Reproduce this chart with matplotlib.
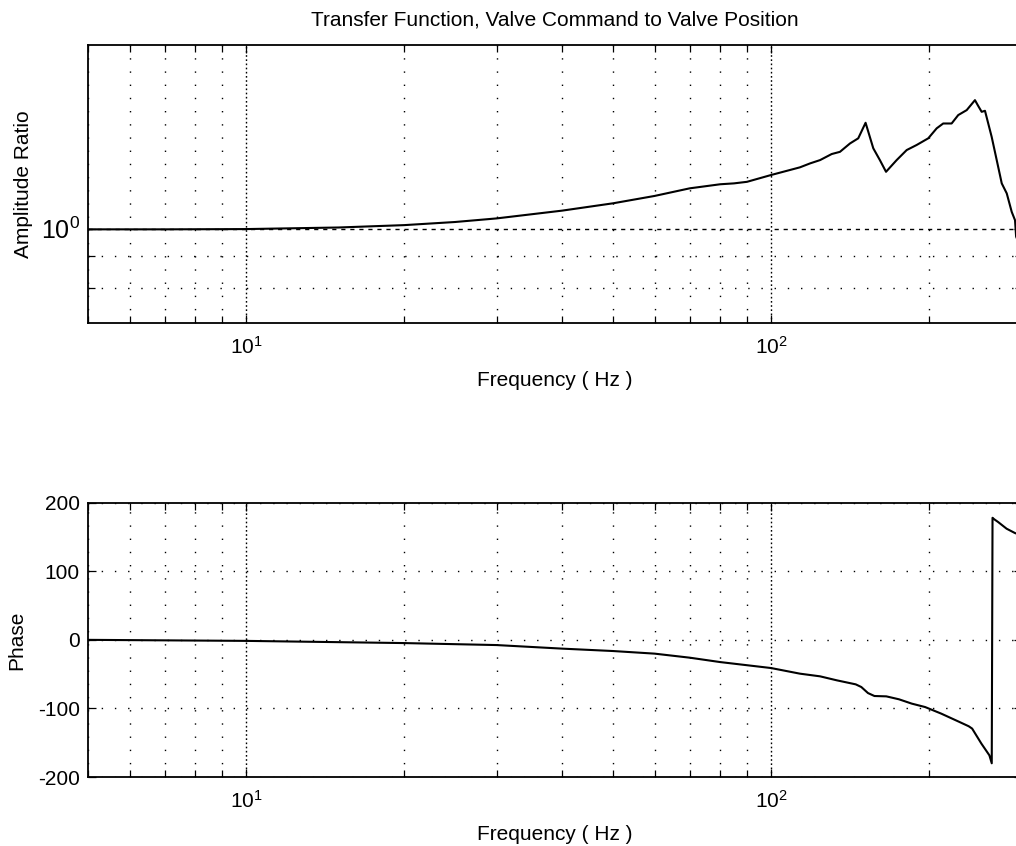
import matplotlib
matplotlib.use('Agg')
import matplotlib.pyplot as plt
from matplotlib.ticker import FixedLocator, NullFormatter

plt.rcParams['font.family'] = ['Liberation Sans', 'DejaVu Sans']
plt.rcParams['lines.scale_dashes'] = False
plt.rcParams['axes.unicode_minus'] = False

# amplitude ratio, valve command -> valve position
freq_amp = [5, 7, 10, 15, 20, 25, 30, 40, 50, 60, 70, 80, 85, 90, 100,
            113.5, 118.7, 124, 130.5, 135.3, 141.4, 146.6, 151.4, 156.6,
            161.2, 165.6, 173.5, 181.3, 189.4, 199.3, 206.8, 212.8, 220.8,
            227.3, 235.9, 244.6, 248, 251.9, 255.6, 263.2, 269.1, 275.1,
            281.2, 287.4, 291.6, 293, 296]
amp = [0.997, 0.997, 0.998, 1.004, 1.013, 1.025, 1.039, 1.070, 1.100, 1.131,
       1.164, 1.182, 1.186, 1.193, 1.224, 1.260, 1.279, 1.295, 1.325, 1.336,
       1.379, 1.406, 1.491, 1.354, 1.295, 1.239, 1.295, 1.345, 1.371, 1.406,
       1.460, 1.487, 1.487, 1.535, 1.564, 1.624, 1.590, 1.554, 1.560, 1.414,
       1.295, 1.186, 1.142, 1.065, 1.032, 0.970, 0.950]

# phase (deg), wrapped to +-180
freq_ph = [5, 10, 20, 30, 40, 50, 60, 70, 80, 100, 113.5, 124, 133.4, 145,
           148.6, 153, 157.4, 165.8, 175.3, 185.4, 196.6, 211, 228.6, 238,
           241.6, 251.6, 260.6, 263.3, 264.2, 266, 270.9, 281, 291.6, 296]
phase = [0, -1.5, -4.7, -7.6, -12.8, -16.3, -20.1, -26, -32.4, -41.1, -49.3,
         -53.2, -59, -64.9, -68.8, -77.6, -81.9, -82.4, -86.7, -93, -98,
         -107.6, -119.8, -126, -129.4, -151.3, -168.4, -180, 178, 176, 171.7,
         162.1, 155.7, 154]

xticks = [10, 100]
xticklabels = [r'$\mathdefault{10^{1}}$', r'$\mathdefault{10^{2}}$']

fs = 15
W, H = 1016, 846

fig = plt.figure(figsize=(W / 100, H / 100), dpi=100)
ax1 = fig.add_axes([88 / W, 1 - 323 / H, 933.5 / W, 278 / H])
ax2 = fig.add_axes([88 / W, 1 - 777 / H, 933.5 / W, 274.3 / H])

dot = (0, (1, 8.5))
for ax in (ax1, ax2):
    ax.set_xscale('log')
    ax.set_xlim(5, 300)
    ax.set_xticks(xticks, xticklabels)
    ax.xaxis.set_minor_formatter(NullFormatter())
    ax.tick_params(which='both', direction='in', top=True, right=True,
                   labelsize=fs, width=0.9)
    ax.tick_params(which='major', length=6)
    ax.tick_params(which='minor', length=5)
    ax.tick_params(axis='x', pad=9)
    ax.tick_params(axis='y', pad=6)
    for s in ax.spines.values():
        s.set_linewidth(1.3)
    ax.grid(True, which='major', axis='x', color='k', lw=1.0,
            linestyle=(0, (1.2, 1.8)))
    ax.grid(True, which='minor', axis='x', color='k', lw=1.0, linestyle=dot)
    ax.set_xlabel('Frequency ( Hz )', fontsize=fs, labelpad=10)

ax1.plot(freq_amp, amp, color='k', lw=1.5)
ax1.set_yscale('log')
ax1.set_ylim(0.7, 2)
ax1.yaxis.set_major_locator(FixedLocator([1]))
ax1.yaxis.set_major_formatter(lambda v, p: r'$\mathdefault{10^{0}}$')
ax1.yaxis.set_minor_locator(FixedLocator([0.8, 0.9]))
ax1.yaxis.set_minor_formatter(NullFormatter())
ax1.tick_params(axis='y', which='major', labelsize=18)
ax1.grid(True, which='major', axis='y', color='k', lw=1.0,
         linestyle=(0, (3, 3.5)))
ax1.grid(True, which='minor', axis='y', color='k', lw=1.0, linestyle=dot)
ax1.set_ylabel('Amplitude Ratio', fontsize=fs)
ax1.yaxis.set_label_coords(-0.059, 0.5)
ax1.set_title('Transfer Function, Valve Command to Valve Position',
              fontsize=fs, pad=14)

ax2.plot(freq_ph, phase, color='k', lw=1.5)
ax2.set_ylim(-200, 200)
ax2.set_yticks([-200, -100, 0, 100, 200])
ax2.grid(True, which='major', axis='y', color='k', lw=1.0, linestyle=dot)
ax2.set_ylabel('Phase', fontsize=fs)
ax2.yaxis.set_label_coords(-0.0664, 0.5)

fig.savefig('out.png', dpi=100)
